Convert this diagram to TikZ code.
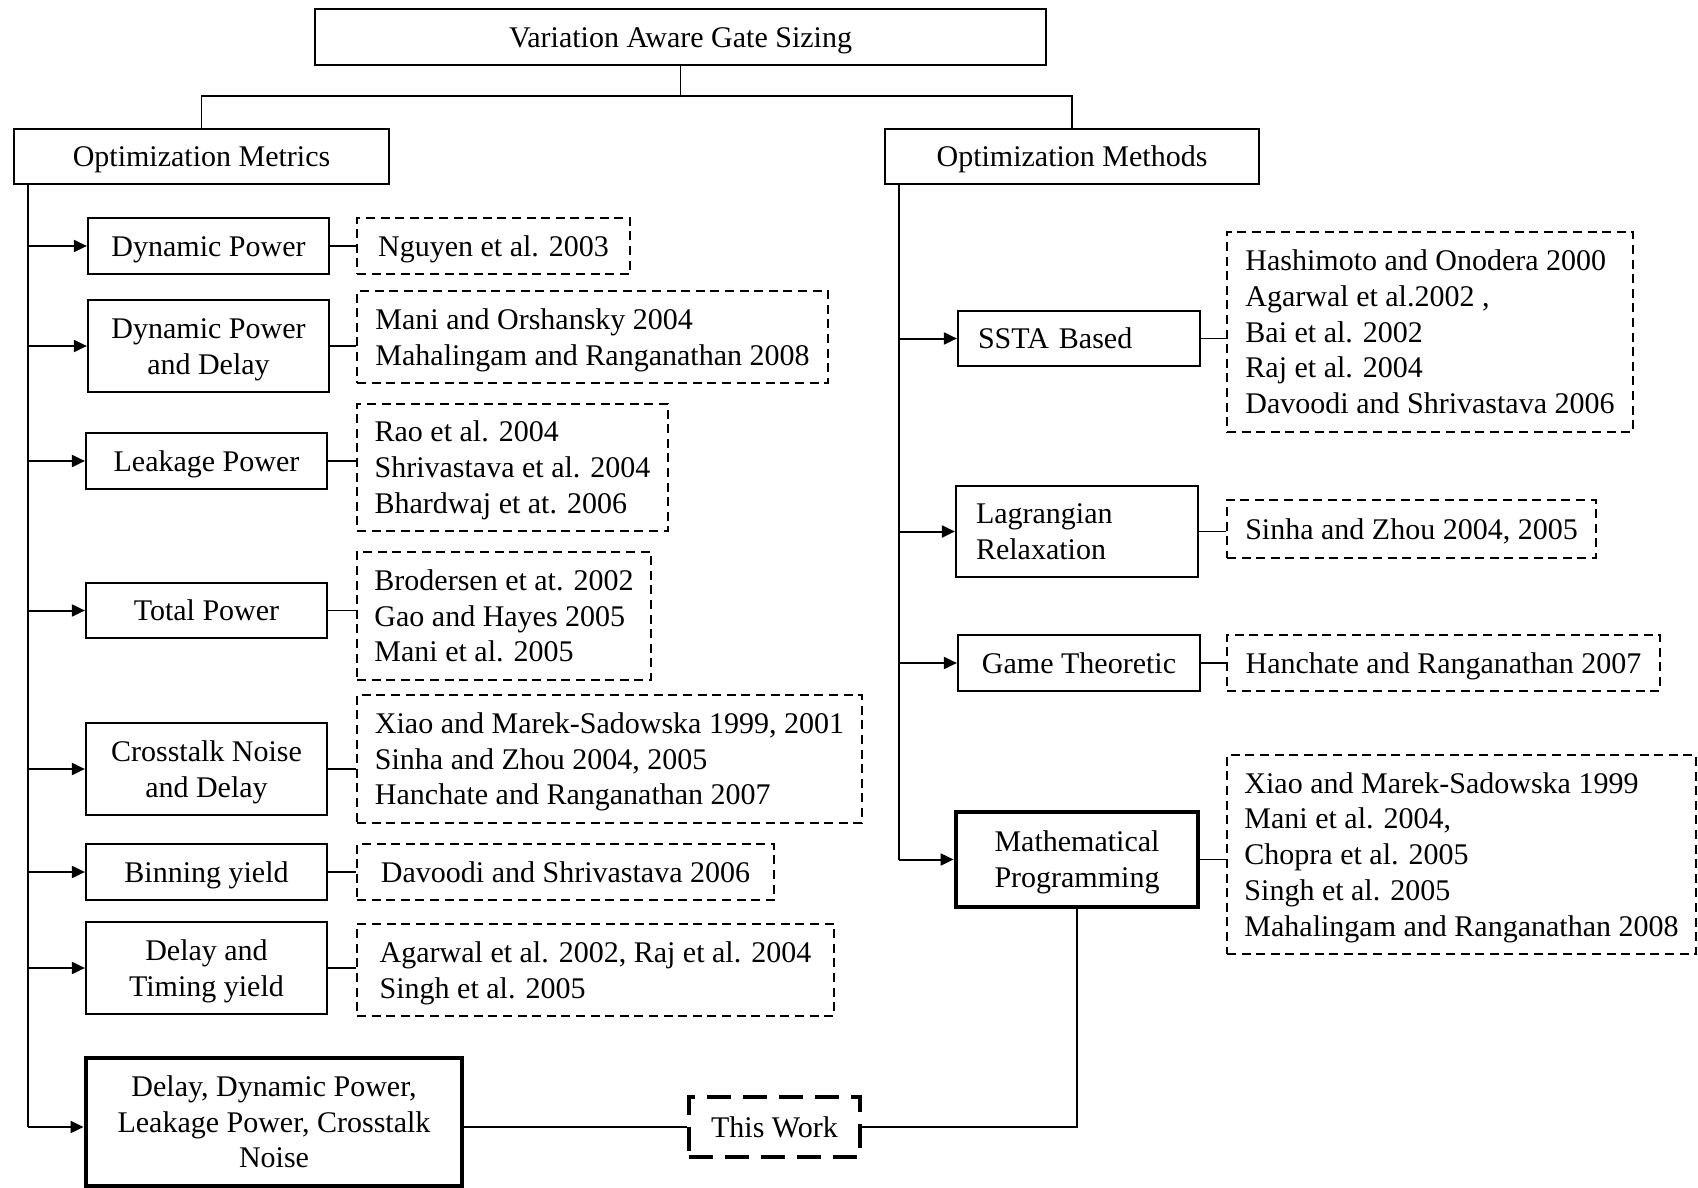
\documentclass[tikz,border=0pt]{standalone}
\usepackage{fontspec}
\setmainfont{Liberation Serif}
\usetikzlibrary{arrows.meta}
% line strut: ascent and descent of the text face
\newcommand\sline{\rule[-3.24pt]{0pt}{16.6pt}}
\begin{document}
\begin{tikzpicture}[x=0.5pt,y=-0.5pt,
  every node/.style={font=\fontsize{15}{17.9}\selectfont},
  box/.style={draw, line width=1.1pt, align=center, inner sep=0pt},
  thickbox/.style={box, line width=2.4pt},
  leftbox/.style={box, align=left, inner xsep=10pt, text width=#1},
  refs/.style={draw, line width=0.8pt, dash pattern=on 4.5pt off 2.8pt, align=left, inner sep=0pt},
  workbox/.style={draw, line width=2pt, dash pattern=on 12pt off 6pt, inner sep=0pt},
  link/.style={line width=0.9pt},
  arr/.style={line width=1pt, -{Triangle[length=6.5pt,width=6pt]}}
]
\useasboundingbox (0,0) rectangle (1698,1188);

% hierarchy heads
\node[box, minimum width=365.5pt, minimum height=28pt] (root) at (680.5,37) {\sline Variation Aware Gate Sizing};
\node[box, minimum width=187.5pt, minimum height=27.5pt] (metrics) at (201.5,156.5) {\sline Optimization Metrics};
\node[box, minimum width=187pt, minimum height=27.5pt] (methods) at (1072,156.5) {\sline Optimization Methods};

% optimization metrics
\node[box, minimum width=120.5pt, minimum height=28pt] (m1) at (208.5,246) {\sline Dynamic Power};
\node[box, minimum width=120.5pt, minimum height=46pt] (m2) at (208.5,346) {\sline Dynamic Power\\\sline and Delay};
\node[box, minimum width=120.5pt, minimum height=28pt] (m3) at (206.5,461) {\sline Leakage Power};
\node[box, minimum width=120.5pt, minimum height=27.5pt] (m4) at (206.5,610.5) {\sline Total Power};
\node[box, minimum width=120.5pt, minimum height=46pt] (m5) at (206.5,769) {\sline Crosstalk Noise\\\sline and Delay};
\node[box, minimum width=120.5pt, minimum height=28pt] (m6) at (206.5,872) {\sline Binning yield};
\node[box, minimum width=120.5pt, minimum height=46pt] (m7) at (206.5,968) {\sline Delay and\\\sline Timing yield};
\node[thickbox, minimum width=188pt, minimum height=64pt] (m8) at (274,1122) {\sline Delay, Dynamic Power,\\\sline Leakage Power, Crosstalk\\\sline Noise};

% references for the metrics
\node[refs, minimum width=136.5pt, minimum height=28pt] (r1) at (493.5,246) {\sline Nguyen et al. 2003};
\node[refs, minimum width=235.5pt, minimum height=46pt] (r2) at (592.5,337) {\sline Mani and Orshansky 2004\\\sline Mahalingam and Ranganathan 2008};
\node[refs, minimum width=155.5pt, minimum height=63.5pt] (r3) at (512.5,467.5) {\sline Rao et al. 2004\\\sline Shrivastava et al. 2004\\\sline Bhardwaj et at. 2006};
\node[refs, minimum width=147pt, minimum height=64pt] (r4) at (504,616) {\sline Brodersen et at. 2002\\\sline Gao and Hayes 2005\\\sline Mani et al. 2005};
\node[refs, minimum width=252.5pt, minimum height=64pt] (r5) at (609.5,759) {\sline Xiao and Marek-Sadowska 1999, 2001\\\sline Sinha and Zhou 2004, 2005\\\sline Hanchate and Ranganathan 2007};
\node[refs, minimum width=208.5pt, minimum height=28pt] (r6) at (565.5,872) {\sline Davoodi and Shrivastava 2006};
\node[refs, minimum width=238.5pt, minimum height=46pt] (r7) at (595.5,970) {\sline Agarwal et al. 2002, Raj et al. 2004\\\sline Singh et al. 2005};

% optimization methods
\node[leftbox=101pt, minimum height=27.5pt] (s1) at (1079,338.5) {\sline SSTA Based};
\node[leftbox=101pt, minimum height=45.5pt] (s2) at (1077,531.5) {\sline Lagrangian\\\sline Relaxation};
\node[box, minimum width=121pt, minimum height=28pt] (s3) at (1079,663) {\sline Game Theoretic};
\node[thickbox, minimum width=121pt, minimum height=47.5pt] (s4) at (1077,859.5) {\sline Mathematical\\\sline Programming};

% references for the methods
\node[refs, minimum width=203pt, minimum height=100pt] (q1) at (1430,332) {\sline Hashimoto and Onodera 2000\\\sline Agarwal et al.2002 ,\\\sline Bai et al. 2002\\\sline Raj et al. 2004\\\sline Davoodi and Shrivastava 2006};
\node[refs, minimum width=184.5pt, minimum height=29pt] (q2) at (1411.5,529) {\sline Sinha and Zhou 2004, 2005};
\node[refs, minimum width=216.5pt, minimum height=28pt] (q3) at (1443.5,663) {\sline Hanchate and Ranganathan 2007};
\node[refs, minimum width=234.5pt, minimum height=99.5pt] (q4) at (1461.5,854.5) {\sline Xiao and Marek-Sadowska 1999\\\sline Mani et al. 2004,\\\sline Chopra et al. 2005\\\sline Singh et al. 2005\\\sline Mahalingam and Ranganathan 2008};

% this work
\node[workbox, minimum width=85.5pt, minimum height=30pt] (tw) at (774.5,1127) {\sline This Work};

% tree connectors
\coordinate (split) at (680.5,96);
\draw[link] (root.south) -- (split);
\draw[link] (metrics.north) |- (split) -| (methods.north);

% left trunk and branches
\coordinate (lt) at (28,0);
\draw[link] (metrics.south -| lt) -- (lt |- tw.west);
\foreach \n in {m1,m2,m3,m4,m5,m6,m7}
  \draw[arr] (lt |- \n.west) -- (\n.west);
\draw[arr] (lt |- tw.west) -- (m8.west |- tw.west);
\foreach \a/\b in {m1/r1,m2/r2,m3/r3,m4/r4,m5/r5,m6/r6,m7/r7}
  \draw[link] (\a.east) -- (\a.east -| \b.west);

% right trunk and branches
\coordinate (rt) at (899,0);
\draw[link] (methods.south -| rt) -- (rt |- s4.west);
\foreach \n in {s1,s2,s3,s4}
  \draw[arr] (rt |- \n.west) -- (\n.west);
\foreach \a/\b in {s1/q1,s2/q2,s3/q3,s4/q4}
  \draw[link] (\a.east) -- (\a.east -| \b.west);

% links through this work
\draw[link] (m8.east |- tw.west) -- (tw.west);
\draw[link] (tw.east) -| (s4.south);
\end{tikzpicture}
\end{document}
